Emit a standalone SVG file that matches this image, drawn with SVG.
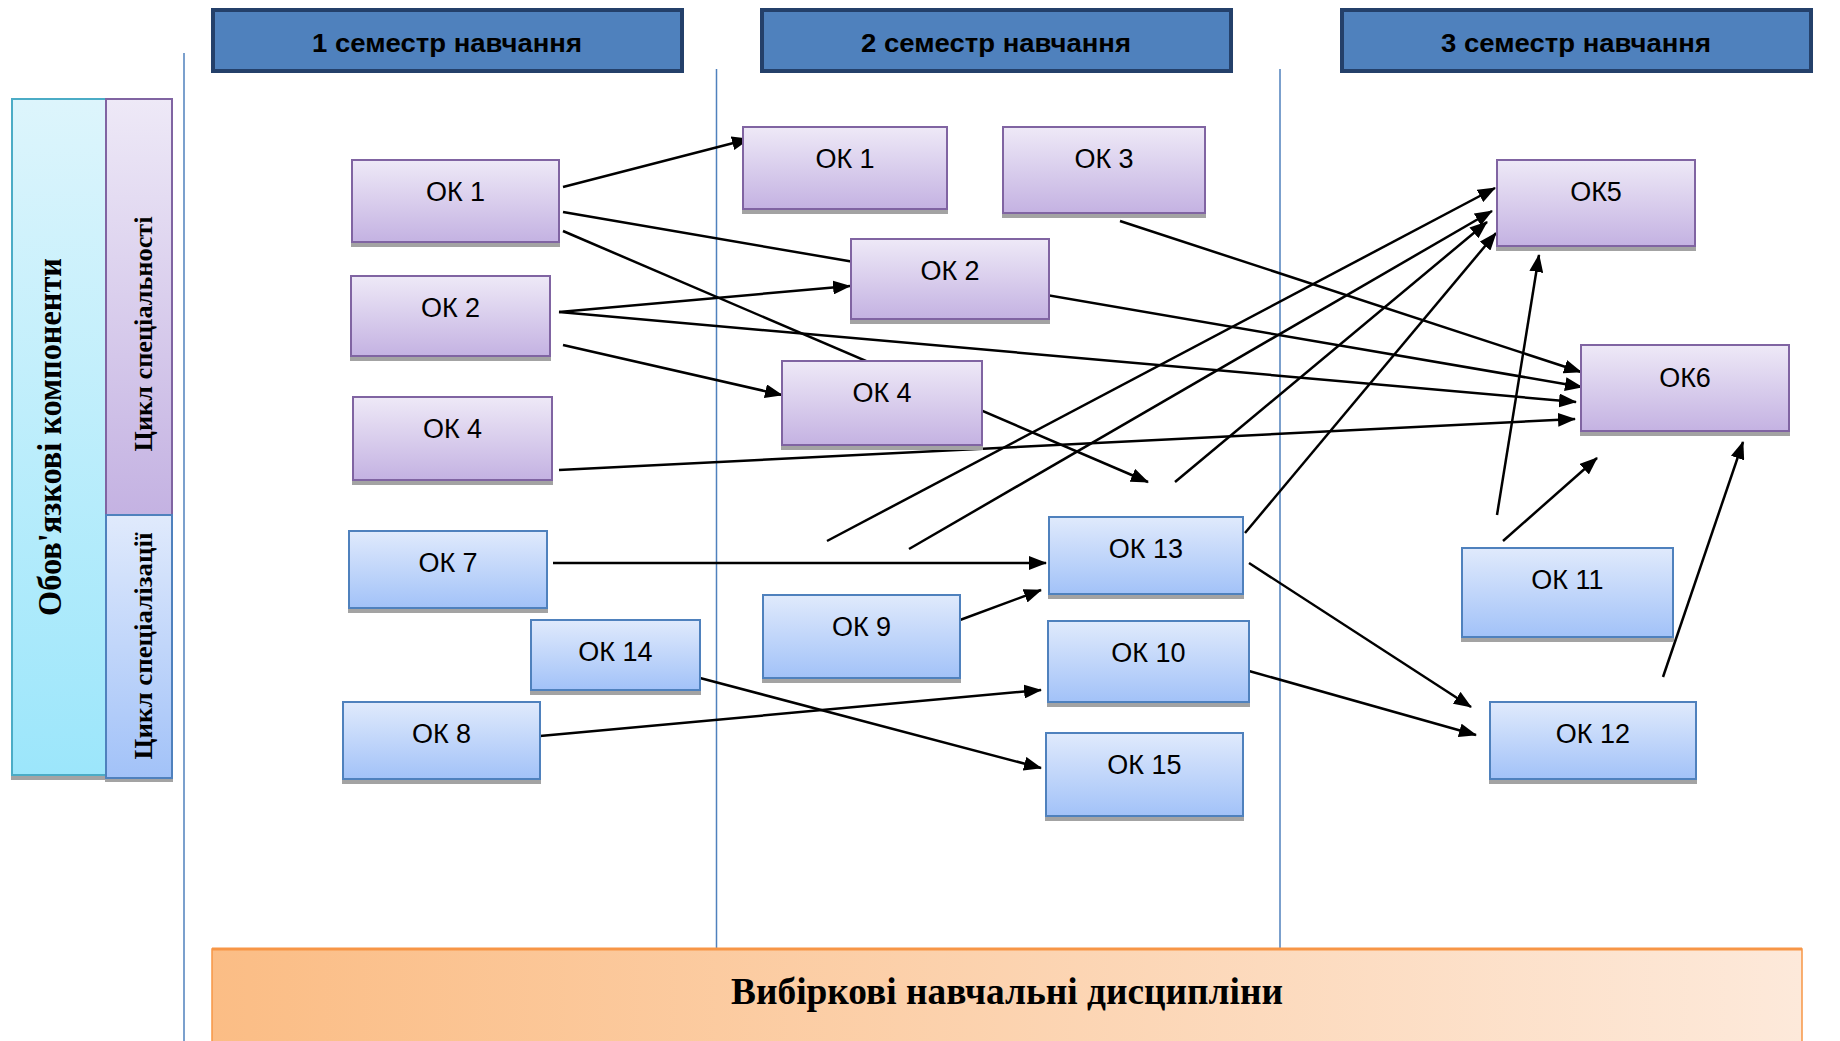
<svg xmlns="http://www.w3.org/2000/svg" width="1840" height="1041" viewBox="0 0 1840 1041">
<defs>
<linearGradient id="gPur" x1="0" y1="0" x2="0" y2="1"><stop offset="0" stop-color="#EEE9F7"/><stop offset="1" stop-color="#C4B2E2"/></linearGradient>
<linearGradient id="gBlu" x1="0" y1="0" x2="0" y2="1"><stop offset="0" stop-color="#E0EAFC"/><stop offset="1" stop-color="#A2C2F8"/></linearGradient>
<linearGradient id="gCyan" x1="0" y1="0" x2="0" y2="1"><stop offset="0" stop-color="#DDF5FC"/><stop offset="1" stop-color="#9CE6FB"/></linearGradient>
<linearGradient id="gOr" x1="0" y1="0" x2="1" y2="0"><stop offset="0" stop-color="#FBBD85"/><stop offset="1" stop-color="#FDE9DA"/></linearGradient>
<marker id="ah" markerUnits="userSpaceOnUse" markerWidth="18" markerHeight="14" refX="17" refY="7" orient="auto"><path d="M0,0 L18,7 L0,14 z" fill="#000"/></marker>
<style>
.pur{fill:url(#gPur);stroke:#8064A2;stroke-width:2}
.blu{fill:url(#gBlu);stroke:#4F81BD;stroke-width:2}
.sh{fill:#A3A3A3}
.lbl{font-family:"Liberation Sans",Arial,sans-serif;font-size:27px;fill:#000;text-anchor:middle}
.hdr{fill:#4F81BD;stroke:#24406A;stroke-width:4}
.htx{font-family:"Liberation Sans",Arial,sans-serif;font-weight:bold;font-size:26px;fill:#000;text-anchor:middle}
.ser{font-family:"Liberation Serif","Times New Roman",serif;font-weight:bold;fill:#000;text-anchor:middle}
.vl{stroke:#4F81BD;stroke-width:1.5;fill:none}
.cn line{stroke:#000;stroke-width:2.5;marker-end:url(#ah)}
</style>
</defs>
<rect width="1840" height="1041" fill="#fff"/>

<g id="guides">
<line class="vl" x1="184" y1="53" x2="184" y2="1041"/>
<line class="vl" x1="716.5" y1="69" x2="716.5" y2="948"/>
<line class="vl" x1="1280" y1="69" x2="1280" y2="948"/>
</g>

<g id="header1"><rect class="hdr" x="213" y="10" width="469" height="61"/><text class="htx" x="447" y="52" textLength="270" lengthAdjust="spacingAndGlyphs">1 семестр навчання</text></g>
<g id="header2"><rect class="hdr" x="762" y="10" width="469" height="61"/><text class="htx" x="996" y="52" textLength="270" lengthAdjust="spacingAndGlyphs">2 семестр навчання</text></g>
<g id="header3"><rect class="hdr" x="1342" y="10" width="469" height="61"/><text class="htx" x="1576" y="52" textLength="270" lengthAdjust="spacingAndGlyphs">3 семестр навчання</text></g>

<g id="side-mandatory">
<rect class="sh" x="11" y="104" width="97" height="676"/>
<rect x="12" y="99" width="94" height="676" fill="url(#gCyan)" stroke="#4BACC6" stroke-width="2"/>
<text class="ser" font-size="33" transform="translate(61,437) rotate(-90)" textLength="358" lengthAdjust="spacingAndGlyphs">Обов'язкові компоненти</text>
</g>
<g id="side-specialty">
<rect x="106" y="99" width="66" height="416" fill="url(#gPur)" stroke="#8064A2" stroke-width="2"/>
<text class="ser" font-size="26" transform="translate(152,334) rotate(-90)" textLength="235" lengthAdjust="spacingAndGlyphs">Цикл спеціальності</text>
</g>
<g id="side-specialization">
<rect class="sh" x="105" y="519" width="68" height="263"/>
<rect x="106" y="515" width="66" height="263" fill="url(#gBlu)" stroke="#4F81BD" stroke-width="2"/>
<text class="ser" font-size="26" transform="translate(152,646) rotate(-90)" textLength="227" lengthAdjust="spacingAndGlyphs">Цикл спеціалізації</text>
</g>

<g id="connectors" class="cn">
<line x1="563" y1="187" x2="749" y2="139"/>
<line x1="563" y1="212" x2="1582" y2="387"/>
<line x1="563" y1="231" x2="1148" y2="482"/>
<line x1="559" y1="312" x2="850" y2="286"/>
<line x1="559" y1="312" x2="1576" y2="402"/>
<line x1="563" y1="345" x2="782" y2="395"/>
<line x1="559" y1="470" x2="1575" y2="419"/>
<line x1="1120" y1="221" x2="1581" y2="372"/>
<line x1="827" y1="541" x2="1495" y2="188"/>
<line x1="909" y1="549" x2="1492" y2="211"/>
<line x1="1175" y1="482" x2="1487" y2="222"/>
<line x1="1245" y1="533" x2="1496" y2="233"/>
<line x1="1497" y1="515" x2="1539" y2="255"/>
<line x1="1503" y1="541" x2="1597" y2="458"/>
<line x1="1663" y1="677" x2="1743" y2="442"/>
<line x1="553" y1="563" x2="1046" y2="563"/>
<line x1="960" y1="620" x2="1041" y2="590"/>
<line x1="540" y1="736" x2="1041" y2="690"/>
<line x1="700" y1="678" x2="1041" y2="768"/>
<line x1="1249" y1="563" x2="1471" y2="707"/>
<line x1="1249" y1="671" x2="1476" y2="735"/>
</g>

<g id="ok1-s1"><rect class="sh" x="351" y="165" width="209" height="82"/><rect class="pur" x="352" y="160" width="207" height="82"/><text class="lbl" x="455.5" y="201">ОК 1</text></g>
<g id="ok2-s1"><rect class="sh" x="350" y="281" width="201" height="80"/><rect class="pur" x="351" y="276" width="199" height="80"/><text class="lbl" x="450.5" y="317">ОК 2</text></g>
<g id="ok4-s1"><rect class="sh" x="352" y="402" width="201" height="83"/><rect class="pur" x="353" y="397" width="199" height="83"/><text class="lbl" x="452.5" y="438">ОК 4</text></g>
<g id="ok1-s2"><rect class="sh" x="742" y="132" width="206" height="82"/><rect class="pur" x="743" y="127" width="204" height="82"/><text class="lbl" x="845" y="168">ОК 1</text></g>
<g id="ok3-s2"><rect class="sh" x="1002" y="132" width="204" height="86"/><rect class="pur" x="1003" y="127" width="202" height="86"/><text class="lbl" x="1104" y="168">ОК 3</text></g>
<g id="ok2-s2"><rect class="sh" x="850" y="244" width="200" height="80"/><rect class="pur" x="851" y="239" width="198" height="80"/><text class="lbl" x="950" y="280">ОК 2</text></g>
<g id="ok4-s2"><rect class="sh" x="781" y="366" width="202" height="84"/><rect class="pur" x="782" y="361" width="200" height="84"/><text class="lbl" x="882" y="402">ОК 4</text></g>
<g id="ok5"><rect class="sh" x="1496" y="165" width="200" height="86"/><rect class="pur" x="1497" y="160" width="198" height="86"/><text class="lbl" x="1596" y="201">ОК5</text></g>
<g id="ok6"><rect class="sh" x="1580" y="350" width="210" height="86"/><rect class="pur" x="1581" y="345" width="208" height="86"/><text class="lbl" x="1685" y="387">ОК6</text></g>

<g id="ok7"><rect class="sh" x="348" y="536" width="200" height="77"/><rect class="blu" x="349" y="531" width="198" height="77"/><text class="lbl" x="448" y="572">ОК 7</text></g>
<g id="ok14"><rect class="sh" x="530" y="625" width="171" height="70"/><rect class="blu" x="531" y="620" width="169" height="70"/><text class="lbl" x="615.5" y="661">ОК 14</text></g>
<g id="ok8"><rect class="sh" x="342" y="707" width="199" height="77"/><rect class="blu" x="343" y="702" width="197" height="77"/><text class="lbl" x="441.5" y="743">ОК 8</text></g>
<g id="ok9"><rect class="sh" x="762" y="600" width="199" height="83"/><rect class="blu" x="763" y="595" width="197" height="83"/><text class="lbl" x="861.5" y="636">ОК 9</text></g>
<g id="ok13"><rect class="sh" x="1048" y="522" width="196" height="77"/><rect class="blu" x="1049" y="517" width="194" height="77"/><text class="lbl" x="1146" y="558">ОК 13</text></g>
<g id="ok10"><rect class="sh" x="1047" y="626" width="203" height="81"/><rect class="blu" x="1048" y="621" width="201" height="81"/><text class="lbl" x="1148.5" y="662">ОК 10</text></g>
<g id="ok15"><rect class="sh" x="1045" y="738" width="199" height="83"/><rect class="blu" x="1046" y="733" width="197" height="83"/><text class="lbl" x="1144.5" y="774">ОК 15</text></g>
<g id="ok11"><rect class="sh" x="1461" y="553" width="213" height="89"/><rect class="blu" x="1462" y="548" width="211" height="89"/><text class="lbl" x="1567.5" y="589">ОК 11</text></g>
<g id="ok12"><rect class="sh" x="1489" y="707" width="208" height="77"/><rect class="blu" x="1490" y="702" width="206" height="77"/><text class="lbl" x="1593" y="743">ОК 12</text></g>

<g id="electives">
<rect x="212" y="949" width="1590" height="100" fill="url(#gOr)" stroke="#F79646" stroke-width="1.5"/>
<line x1="212" y1="949" x2="1802" y2="949" stroke="#F79646" stroke-width="3"/>
<text class="ser" font-size="38" x="1007" y="1004" textLength="552" lengthAdjust="spacingAndGlyphs">Вибіркові навчальні дисципліни</text>
</g>
</svg>
